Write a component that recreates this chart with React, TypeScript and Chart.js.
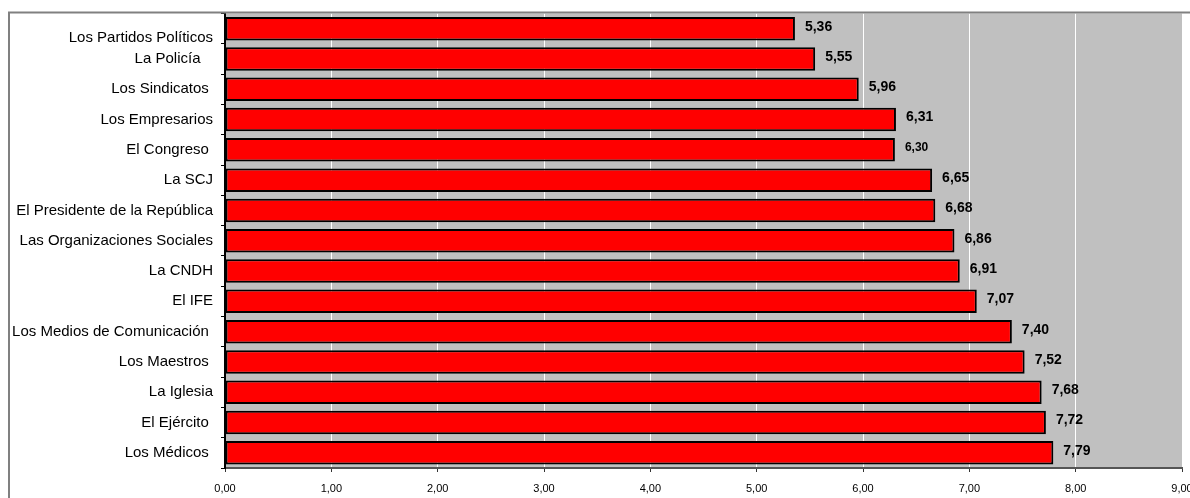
import React, { useEffect, useRef } from 'react';
import { Chart, registerables } from 'chart.js';

Chart.register(...registerables);

const categories = [
  'Los Partidos Políticos',
  'La Policía   ',
  'Los Sindicatos ',
  'Los Empresarios',
  'El Congreso ',
  'La SCJ',
  'El Presidente de la República',
  'Las Organizaciones Sociales',
  'La CNDH',
  'El IFE',
  'Los Medios de Comunicación ',
  'Los Maestros ',
  'La Iglesia',
  'El Ejército ',
  'Los Médicos ',
];

const values = [5.36, 5.55, 5.96, 6.31, 6.3, 6.65, 6.68, 6.86, 6.91, 7.07, 7.4, 7.52, 7.68, 7.72, 7.79];

const xTickLabels = ['0,00', '1,00', '2,00', '3,00', '4,00', '5,00', '6,00', '7,00', '8,00', '9,00'];

const FONT = '"Liberation Sans", Arial, sans-serif';
const SMALL_LABEL_INDEX = 4;

const fmt = (v: number) => v.toFixed(2).replace('.', ',');

const decorPlugin = {
  id: 'decor',
  beforeDraw(chart: any) {
    const { ctx, chartArea } = chart;
    ctx.save();
    ctx.fillStyle = '#C0C0C0';
    ctx.fillRect(chartArea.left, chartArea.top, chartArea.right - chartArea.left, chartArea.bottom - chartArea.top);
    ctx.restore();
  },
  afterDraw(chart: any) {
    const { ctx } = chart;
    ctx.save();
    ctx.strokeStyle = '#808080';
    ctx.lineWidth = 2;
    ctx.beginPath();
    ctx.moveTo(9, 600);
    ctx.lineTo(9, 12.5);
    ctx.lineTo(1300, 12.5);
    ctx.stroke();
    ctx.restore();
  },
  afterDatasetsDraw(chart: any) {
    const { ctx } = chart;
    const meta = chart.getDatasetMeta(0);
    ctx.save();
    ctx.fillStyle = '#000';
    ctx.textAlign = 'left';
    ctx.textBaseline = 'middle';
    meta.data.forEach((bar: any, i: number) => {
      const size = i === SMALL_LABEL_INDEX ? 12 : 14;
      ctx.font = `bold ${size}px ${FONT}`;
      ctx.fillText(fmt(values[i]), bar.x + 10, bar.y - 2);
    });
    ctx.restore();
  },
};

export default function App() {
  const ref = useRef<HTMLCanvasElement | null>(null);

  useEffect(() => {
    if (!ref.current) return;
    const chart = new Chart(ref.current, {
      type: 'bar',
      data: {
        labels: categories,
        datasets: [
          {
            data: values,
            backgroundColor: '#FF0000',
            borderColor: '#000000',
            borderWidth: 2,
            borderSkipped: false,
            barPercentage: 0.775,
            categoryPercentage: 1,
          },
        ],
      },
      options: {
        indexAxis: 'y',
        animation: false,
        responsive: false,
        layout: { padding: { left: 0, top: 13.5, right: 8, bottom: 0 } },
        plugins: {
          legend: { display: false },
          tooltip: { enabled: false },
          title: { display: false },
        },
        scales: {
          x: {
            min: 0,
            max: 9,
            ticks: {
              stepSize: 1,
              color: '#000',
              font: { family: FONT, size: 11 },
              padding: 10,
              maxRotation: 0,
              autoSkip: false,
              callback: (_v: any, i: number) => xTickLabels[i],
            },
            grid: {
              color: '#FFFFFF',
              lineWidth: 1,
              tickColor: '#333',
              tickLength: 4,
              drawTicks: true,
            },
            border: { color: '#555', width: 2 },
            afterFit: (scale: any) => {
              scale.height = 30;
              scale.paddingLeft = 0;
              scale.paddingRight = 0;
            },
          },
          y: {
            ticks: {
              color: '#000',
              font: { family: FONT, size: 15 },
              padding: 8,
              autoSkip: false,
              callback: (_v: any, i: number) => (i === 0 ? ['', categories[0]] : categories[i]),
            },
            grid: {
              drawOnChartArea: false,
              drawTicks: true,
              tickLength: 4,
              tickColor: '#000',
              color: '#000',
            },
            border: { color: '#000', width: 2 },
            afterFit: (scale: any) => {
              scale.width = 225;
              scale.paddingTop = 0;
              scale.paddingBottom = 0;
            },
          },
        },
      },
      plugins: [decorPlugin],
    });
    return () => chart.destroy();
  }, []);

  return (
    <div style={{ position: 'fixed', left: 0, top: 0, width: 1190, height: 498, background: '#fff', overflow: 'hidden' }}>
      <canvas ref={ref} width={1190} height={498} style={{ display: 'block' }} />
    </div>
  );
}
